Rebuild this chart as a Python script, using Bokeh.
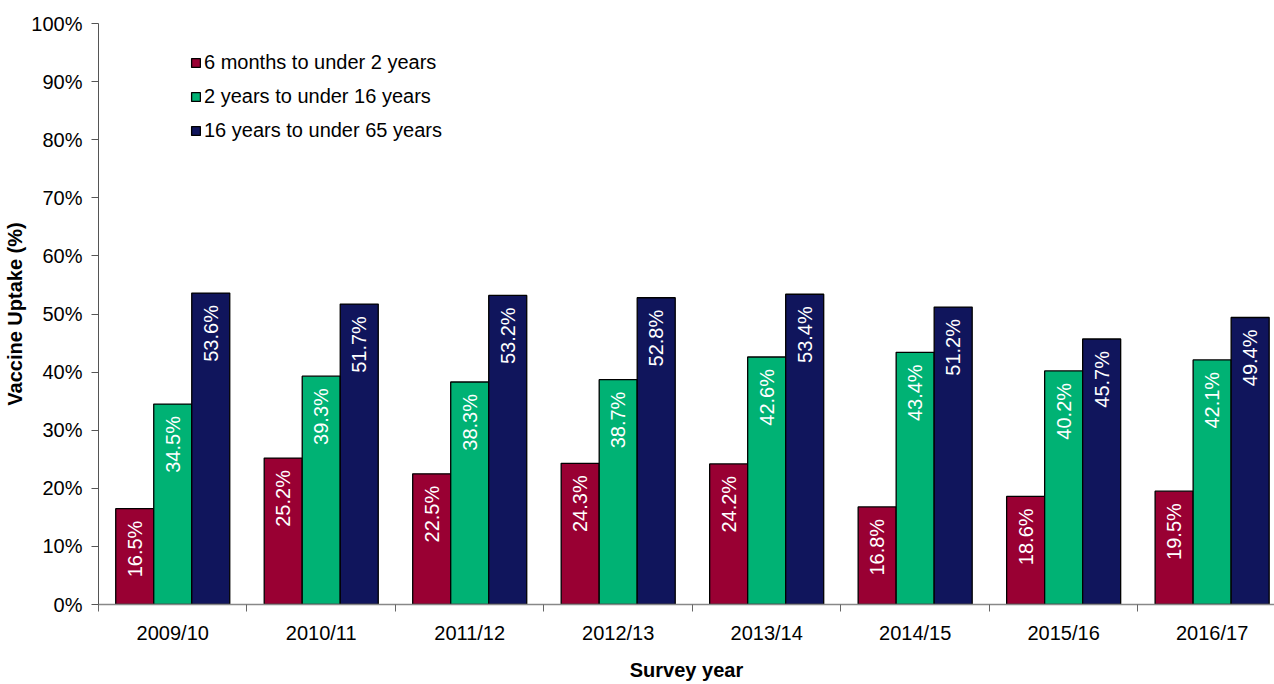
import numpy as np
from bokeh.plotting import figure
from bokeh.models import (ColumnDataSource, Range1d, FixedTicker, PrintfTickFormatter,
                          Legend, LegendItem)
from bokeh.core.properties import value
from bokeh.embed import file_html
from bokeh.resources import INLINE

years = ["2009/10", "2010/11", "2011/12", "2012/13", "2013/14", "2014/15", "2015/16", "2016/17"]
series_names = ["6 months to under 2 years", "2 years to under 16 years", "16 years to under 65 years"]
under2 = [16.5, 25.2, 22.5, 24.3, 24.2, 16.8, 18.6, 19.5]
age2to16 = [34.5, 39.3, 38.3, 38.7, 42.6, 43.4, 40.2, 42.1]
age16to65 = [53.6, 51.7, 53.2, 52.8, 53.4, 51.2, 45.7, 49.4]
colors = ["#990033", "#00B274", "#10155C"]
y_ticks = list(range(0, 101, 10))

FONT = "Liberation Sans"
FS = "20px"

p = figure(width=1274, height=684, output_backend="svg", toolbar_location=None,
           x_range=Range1d(0, 7.92), y_range=Range1d(0, 100),
           min_border_left=98, min_border_right=0, min_border_top=23, min_border_bottom=80)
p.outline_line_color = None
p.xgrid.visible = False
p.ygrid.visible = False
p.background_fill_color = "white"

idx = np.arange(len(years))
bw = 0.256
offsets = [-bw, 0.0, bw]
renderers = []
for vals, col, off in zip([under2, age2to16, age16to65], colors, offsets):
    src = ColumnDataSource(dict(x=idx + 0.5 + off, top=vals,
                                lab=[f"{v:.1f}%" for v in vals]))
    r = p.vbar(x="x", top="top", bottom=0, width=bw, source=src,
               fill_color=col, line_color="black", line_width=1.3)
    renderers.append(r)
    p.text(x="x", y="top", text="lab", source=src, angle=np.pi / 2,
           text_align="right", text_baseline="middle", y_offset=12,
           text_color="white", text_font=value(FONT), text_font_size=value(FS))

# x axis
xa = p.xaxis[0]
xa.ticker = FixedTicker(ticks=list(idx + 0.5), minor_ticks=list(range(len(years) + 1)))
xa.major_label_overrides = {float(i + 0.5): y for i, y in enumerate(years)}
xa.major_tick_line_color = None
xa.major_tick_out = 0
xa.major_tick_in = 0
xa.minor_tick_in = 0
xa.minor_tick_out = 7
xa.minor_tick_line_color = "#666666"
xa.axis_line_color = "#888888"
xa.axis_line_width = 1.5
xa.major_label_text_font = FONT
xa.major_label_text_font_size = FS
xa.major_label_text_color = "black"
xa.major_label_standoff = 10
xa.axis_label = "Survey year"
xa.axis_label_text_font = FONT
xa.axis_label_text_font_style = "bold"
xa.axis_label_text_font_size = FS
xa.axis_label_standoff = 12
xa.axis_label_text_color = "black"

# y axis
ya = p.yaxis[0]
ya.ticker = FixedTicker(ticks=y_ticks)
ya.formatter = PrintfTickFormatter(format="%d%%")
ya.minor_tick_line_color = None
ya.major_tick_in = 0
ya.major_tick_out = 7
ya.major_tick_line_color = "#555555"
ya.axis_line_color = "#555555"
ya.major_label_text_font = FONT
ya.major_label_text_font_size = FS
ya.major_label_text_color = "black"
ya.major_label_standoff = 9
ya.axis_label = "Vaccine Uptake (%)"
ya.axis_label_text_font = FONT
ya.axis_label_text_font_style = "bold"
ya.axis_label_text_font_size = FS
ya.axis_label_standoff = 2
ya.axis_label_text_color = "black"

legend = Legend(items=[LegendItem(label=n, renderers=[r]) for n, r in zip(series_names, renderers)],
                location=(92, 457), padding=0, margin=0, spacing=0,
                glyph_width=11, glyph_height=11, label_height=34, label_standoff=3,
                label_text_font=FONT, label_text_font_size=FS, label_text_color="black",
                border_line_alpha=0, background_fill_alpha=0)
p.add_layout(legend, "center")

open("out.html", "w").write(file_html(p, INLINE))
